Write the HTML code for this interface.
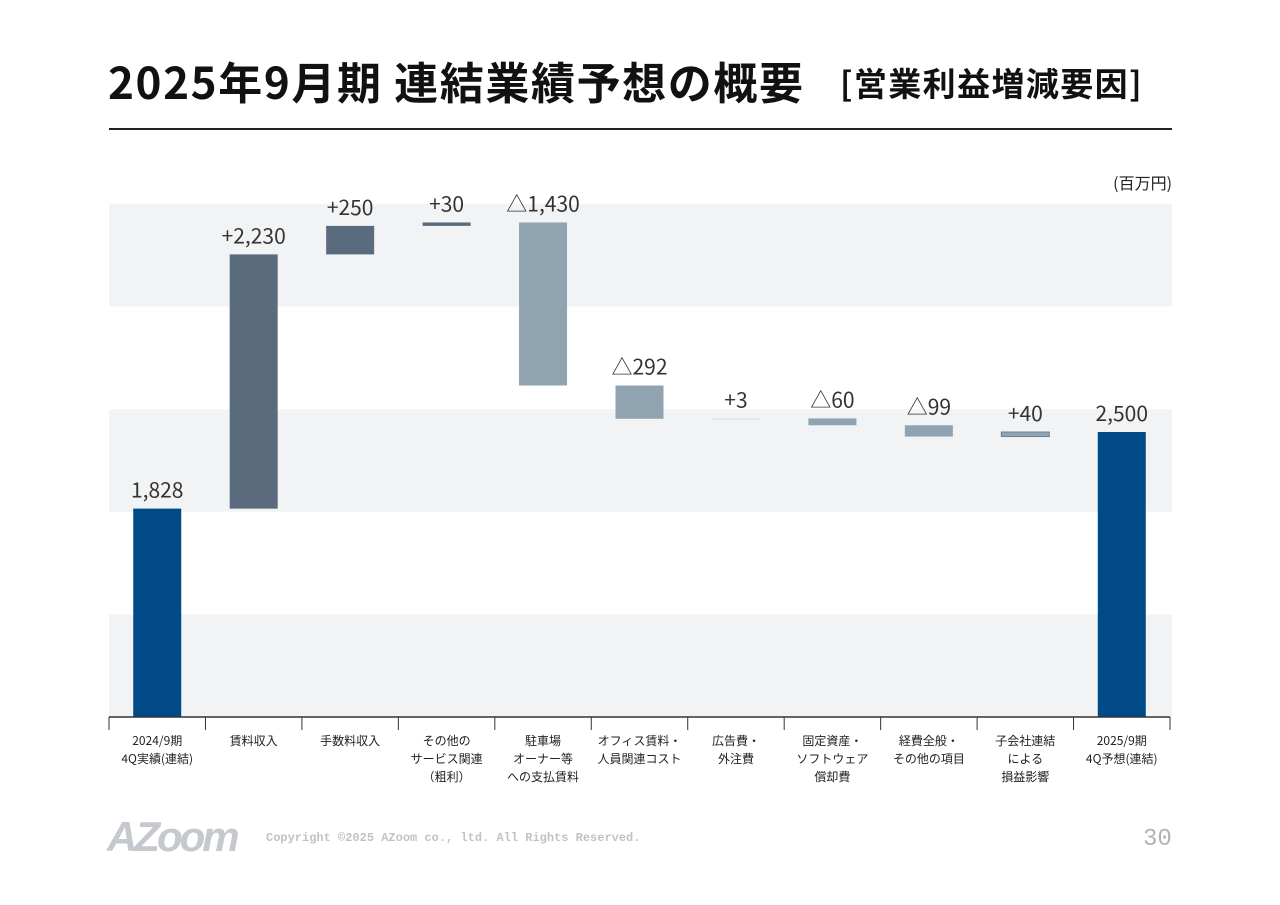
<!DOCTYPE html>
<html><head><meta charset="utf-8">
<style>
body{margin:0;background:#fff;}
#wrap{position:relative;width:1280px;height:905px;overflow:hidden;font-family:"Liberation Sans","Noto Sans CJK JP",sans-serif;}
</style></head>
<body>
<div id="wrap">
<div style="position:absolute;left:108px;top:50px;font-family:'Noto Sans CJK JP',sans-serif;font-size:44px;line-height:60px;font-weight:bold;color:#111;white-space:nowrap;letter-spacing:1.6px">2025年9月期 連結業績予想の概要</div>
<div style="position:absolute;left:840px;top:58px;font-family:'Noto Sans CJK JP',sans-serif;font-size:33px;line-height:48px;font-weight:bold;color:#111;white-space:nowrap;letter-spacing:1.4px">[営業利益増減要因]</div>
<div style="position:absolute;left:109px;top:128px;width:1063px;height:2px;background:#222"></div>
<div style="position:absolute;right:108px;top:170px;font-family:'Noto Sans CJK JP',sans-serif;font-size:16px;color:#222">(百万円)</div>
<svg id="chart" width="1280" height="905" style="position:absolute;left:0;top:0"></svg>
<div style="position:absolute;left:107px;top:813px;font-size:42px;font-weight:900;font-style:italic;color:#c5c9cf;letter-spacing:-3px">AZoom</div>
<div style="position:absolute;left:266px;top:831px;font-family:'Liberation Mono',monospace;font-weight:bold;font-size:12px;color:#bfc3c8">Copyright ©2025 AZoom co., ltd. All Rights Reserved.</div>
<div style="position:absolute;left:1143px;top:826px;font-family:'Liberation Mono',monospace;font-size:24px;color:#b0b4b9">30</div>
</div>
<script>
const categories=[["2024/9期","4Q実績(連結)"],["賃料収入"],["手数料収入"],["その他の","サービス関連","（粗利）"],["駐車場","オーナー等","への支払賃料"],["オフィス賃料・","人員関連コスト"],["広告費・","外注費"],["固定資産・","ソフトウェア","償却費"],["経費全般・","その他の項目"],["子会社連結","による","損益影響"],["2025/9期","4Q予想(連結)"]];
const values=[1828,2230,250,30,-1430,-292,3,-60,-99,40,2500];
const kinds=["total","delta","delta","delta","delta","delta","delta","delta","delta","delta","total"];
const valueLabels=["1,828","+2,230","+250","+30","△1,430","△292","+3","△60","△99","+40","2,500"];
const bandStep=900;
const yMax=4500;

const svg=document.getElementById('chart');
const NS='http://www.w3.org/2000/svg';
const L=109,R=1172,base=717,top0=204;
const slotW=(R-2-L)/categories.length;
const y=v=>base-(v/yMax)*(base-top0);
const xc=i=>L+slotW*(i+0.5);
function mk(t,a){const e=document.createElementNS(NS,t);for(const k in a)e.setAttribute(k,a[k]);svg.appendChild(e);return e;}
for(let b=0;b*bandStep<yMax;b++){
  if(b%2===0){const r=mk('rect',{x:L,y:y(Math.min(yMax,(b+1)*bandStep)),width:R-L,height:y(b*bandStep)-y(Math.min(yMax,(b+1)*bandStep)),fill:'#f2f3f5'});
  
  }
}
let run=0;
values.forEach((v,i)=>{
  let a,b,fill,stroke='none';
  if(kinds[i]==='total'){a=0;b=v;run=v;fill='#004a87';}
  else{a=run;b=run+v;run=b;
    if(v<0)fill='#8fa3b1';else if(i<=3)fill='#5a6b7d';else {fill='#8fa3b1';}
    if(i===6){fill='#e4e7ea';}
    if(i===9){fill='#8fa3b1';stroke='#6f8090';}
  }
  const t=y(Math.max(a,b)),h=Math.max(1.5,Math.abs(y(a)-y(b)));
  const r=mk('rect',{x:xc(i)-24,y:t,width:48,height:h,fill:fill,stroke:stroke});
  
  
  const tx=mk('text',{x:xc(i),y:t-11,'text-anchor':'middle','font-size':21,fill:'#333','font-family':'Noto Sans CJK JP, sans-serif'});
  tx.textContent=valueLabels[i];
  
  
});
const ax=mk('line',{x1:L,y1:base,x2:R-2,y2:base,stroke:'#333','stroke-width':1.5});


for(let i=0;i<=categories.length;i++){
  const tk=mk('line',{x1:L+slotW*i,y1:base,x2:L+slotW*i,y2:base+13,stroke:'#333','stroke-width':1});
  
  
}
categories.forEach((c,i)=>{
  c.forEach((line,j)=>{
    const t=mk('text',{x:xc(i),y:745+j*18,'text-anchor':'middle','font-size':12,fill:'#222','font-family':'Noto Sans CJK JP, sans-serif'});
    t.textContent=line;
    
    
  });
});
</script>
</body></html>
